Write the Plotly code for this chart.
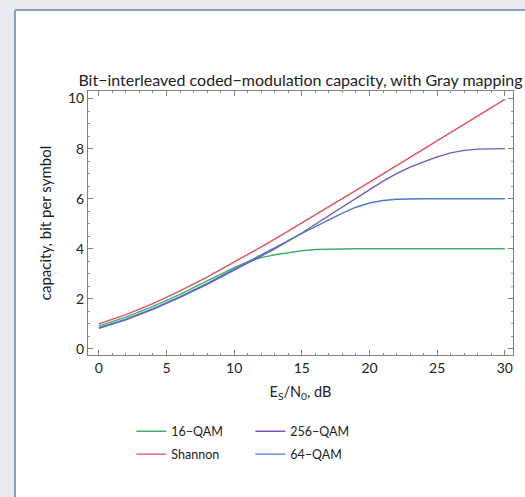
import plotly.graph_objects as go

# ---- data ----
snr_db = [0, 2, 4, 6, 8, 10, 11, 12, 13, 14, 15, 16, 17, 18, 19, 20, 21, 22, 23, 24, 25, 26, 27, 28, 29, 30]

shannon = [1.000, 1.370, 1.812, 2.317, 2.870, 3.459, 3.764, 4.075, 4.389, 4.707, 5.028, 5.351,
           5.676, 6.002, 6.330, 6.658, 6.988, 7.318, 7.648, 7.979, 8.310, 8.641, 8.972, 9.304, 9.635, 9.967]

qam16 = [0.92, 1.27, 1.70, 2.18, 2.72, 3.25, 3.48, 3.65, 3.76, 3.85, 3.92, 3.97,
         3.99, 4.00, 4.00, 4.00, 4.00, 4.00, 4.00, 4.00, 4.00, 4.00, 4.00, 4.00, 4.00, 4.00]

qam64 = [0.85, 1.19, 1.61, 2.09, 2.62, 3.18, 3.47, 3.76, 4.05, 4.33, 4.62, 4.90,
         5.15, 5.42, 5.66, 5.83, 5.93, 5.98, 6.00, 6.00, 6.00, 6.00, 6.00, 6.00, 6.00, 6.00]

qam256 = [0.82, 1.16, 1.58, 2.06, 2.58, 3.13, 3.42, 3.71, 4.00, 4.30, 4.63, 4.98,
          5.33, 5.68, 6.03, 6.37, 6.70, 7.00, 7.26, 7.47, 7.67, 7.83, 7.93, 7.98, 8.00, 8.00]

x_ticks = [0, 5, 10, 15, 20, 25, 30]
y_ticks = [0, 2, 4, 6, 8, 10]

FONT = "Lato"
TXT = "#222222"
OUTER = "#e9ebf0"
BORDER = "#8a9fbd"

fig = go.Figure()
fig.add_trace(go.Scatter(x=snr_db, y=qam16, mode="lines", name="16\u2212QAM",
                         line=dict(color="#3fae6c", width=1.4), legend="legend"))
fig.add_trace(go.Scatter(x=snr_db, y=qam256, mode="lines", name="256\u2212QAM",
                         line=dict(color="#7656b4", width=1.4), legend="legend"))
fig.add_trace(go.Scatter(x=snr_db, y=shannon, mode="lines", name="Shannon",
                         line=dict(color="#e0505e", width=1.4), legend="legend2"))
fig.add_trace(go.Scatter(x=snr_db, y=qam64, mode="lines", name="64\u2212QAM",
                         line=dict(color="#4a7cc4", width=1.4), legend="legend2"))

axis_common = dict(
    showline=True, linecolor="#808080", linewidth=1, mirror="allticks",
    ticks="inside", ticklen=5, tickcolor="#808080", tickwidth=1,
    showgrid=False, zeroline=False,
    tickfont=dict(family=FONT, size=14, color=TXT),
)

# panel geometry helpers (pixels -> paper fractions)
L, T, PW, PH = 88, 91, 425, 264
def px(xp): return (xp - L) / PW
def py(yp): return 1 + (T - yp) / PH

fig.update_layout(
    width=525, height=497,
    margin=dict(l=L, r=525 - L - PW, t=T, b=497 - T - PH),
    paper_bgcolor="white",
    plot_bgcolor="white",
    font=dict(family=FONT, size=13, color=TXT),
    title=dict(text="Bit\u2212interleaved coded\u2212modulation capacity, with Gray mapping",
               x=0.5, xref="paper", y=1 - 80 / 497, yref="container", yanchor="middle",
               xanchor="center", font=dict(family=FONT, size=16, color=TXT)),
    xaxis=dict(range=[-0.8, 30.6], tickvals=x_ticks,
               minor=dict(dtick=1, ticklen=2, ticks="inside", tickcolor="#909090"),
               title=dict(text="E<sub>S</sub>/N<sub>0</sub>, dB", standoff=12,
                          font=dict(family=FONT, size=14.5, color=TXT)),
               **axis_common),
    yaxis=dict(range=[-0.24, 10.3], tickvals=y_ticks,
               minor=dict(dtick=0.5, ticklen=2, ticks="inside", tickcolor="#909090"),
               title=dict(text="capacity, bit per symbol", standoff=12,
                          font=dict(family=FONT, size=15, color=TXT)),
               **axis_common),
    legend=dict(orientation="h", x=0.102, y=-0.29, xanchor="left", yanchor="middle",
                entrywidth=74, entrywidthmode="pixels", bgcolor="rgba(0,0,0,0)",
                font=dict(family=FONT, size=12.5, color=TXT), traceorder="normal"),
    legend2=dict(orientation="h", x=0.102, y=-0.377, xanchor="left", yanchor="middle",
                 entrywidth=74, entrywidthmode="pixels", bgcolor="rgba(0,0,0,0)",
                 font=dict(family=FONT, size=12.5, color=TXT), traceorder="normal"),
    shapes=[
        # outer grey margin: left strip and top strip
        dict(type="rect", xref="paper", yref="paper", layer="below",
             x0=px(-20), x1=px(14), y0=py(520), y1=py(-20),
             fillcolor=OUTER, line=dict(width=0)),
        dict(type="rect", xref="paper", yref="paper", layer="below",
             x0=px(-20), x1=px(560), y0=py(9), y1=py(-20),
             fillcolor=OUTER, line=dict(width=0)),
        # panel border (left and top edges)
        dict(type="line", xref="paper", yref="paper", layer="below",
             x0=px(15), x1=px(15), y0=py(520), y1=py(10),
             line=dict(color=BORDER, width=2)),
        dict(type="line", xref="paper", yref="paper", layer="below",
             x0=px(15), x1=px(560), y0=py(10), y1=py(10),
             line=dict(color=BORDER, width=2)),
    ],
)

fig.write_html("out.html", config={"displayModeBar": False},
               post_script="document.body.style.margin='0';document.body.style.overflow='hidden';")
